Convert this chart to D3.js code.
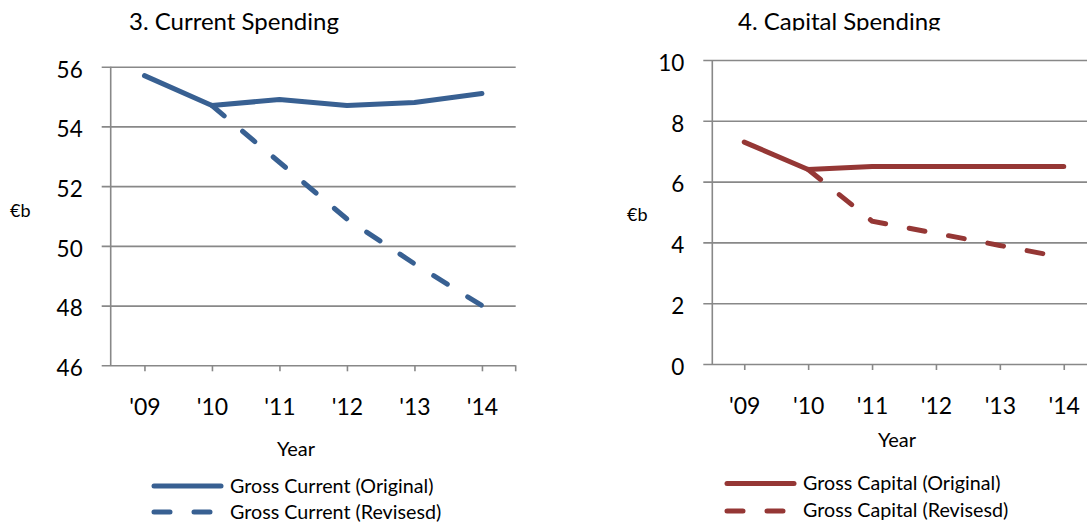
<!DOCTYPE html>
<html>
<head>
<meta charset="utf-8">
<script src="https://cdn.jsdelivr.net/npm/d3@7"></script>
<style>
  html, body { margin: 0; padding: 0; background: #fff; }
  svg { display: block; font-family: Lato, "Open Sans", sans-serif; }
</style>
</head>
<body>
<svg id="chart" width="1087" height="524"></svg>
<script>
// Budget projections, € billion
const years = ["'09", "'10", "'11", "'12", "'13", "'14"];
const currentOriginal = [55.7, 54.7, 54.9, 54.7, 54.8, 55.1];
const currentRevised = [null, 54.7, 52.8, 50.9, 49.4, 48.0];
const capitalOriginal = [7.3, 6.4, 6.5, 6.5, 6.5, 6.5];
const capitalRevised = [null, 6.4, 4.7, 4.3, 3.9, 3.5];
const currentTicks = [46, 48, 50, 52, 54, 56];
const capitalTicks = [0, 2, 4, 6, 8, 10];

const svg = d3.select("#chart");
const GRID = "#888888";

function panel(cfg) {
  const g = svg.append("g");
  const x = d3.scalePoint().domain(years).range([cfg.x0, cfg.x0 + cfg.step * years.length]).padding(0.5);
  const y = d3.scaleLinear().domain(cfg.domain).range([cfg.yBottom, cfg.yTop]);
  const xEnd = cfg.x0 + cfg.step * years.length;

  // title
  const title = g.append("text")
    .attr("x", cfg.titleX).attr("y", cfg.titleY)
    .attr("font-size", 24).attr("fill", "#000")
    .text(cfg.title);
  if (cfg.clipTitle) {
    const id = "clip-" + cfg.key;
    svg.append("clipPath").attr("id", id)
      .append("rect").attr("x", 0).attr("y", 0).attr("width", 1087).attr("height", cfg.clipTitle);
    title.attr("clip-path", `url(#${id})`);
  }

  // y axis with gridlines
  const yAxis = g.append("g").attr("transform", `translate(${cfg.x0},0)`)
    .call(d3.axisLeft(y).tickValues(cfg.ticks).tickSizeInner(-(xEnd - cfg.x0)).tickSizeOuter(0).tickPadding(28));
  yAxis.select(".domain").remove();
  yAxis.selectAll(".tick line").attr("x1", -9).attr("stroke", GRID).attr("stroke-width", 1.6);
  yAxis.selectAll(".tick text").attr("font-size", 22.5).attr("font-family", "Lato, sans-serif")
    .attr("fill", "#000").attr("dy", "0.46em");

  // vertical axis line
  g.append("line")
    .attr("x1", cfg.x0).attr("x2", cfg.x0)
    .attr("y1", y(cfg.domain[1])).attr("y2", y(cfg.domain[0]))
    .attr("stroke", GRID).attr("stroke-width", 1.6);

  // x axis ticks + labels
  const xAxis = g.append("g").attr("transform", `translate(0,${y(cfg.domain[0])})`)
    .call(d3.axisBottom(x).tickSizeInner(6).tickSizeOuter(0).tickPadding(0));
  xAxis.select(".domain").remove();
  xAxis.selectAll(".tick line").attr("stroke", GRID).attr("stroke-width", 1.6);
  xAxis.selectAll(".tick text").attr("font-size", 23).attr("font-family", "Lato, sans-serif")
    .attr("fill", "#000").attr("dy", null).attr("y", 50.2);
  xAxis.append("line")
    .attr("x1", xEnd).attr("x2", xEnd).attr("y1", 0).attr("y2", 6)
    .attr("stroke", GRID).attr("stroke-width", 1.6);

  // axis titles
  g.append("text").attr("x", cfg.unitX).attr("y", cfg.unitY)
    .attr("font-size", 18).text("€b");
  g.append("text").attr("x", cfg.yearX).attr("y", cfg.yearY)
    .attr("font-size", 20).attr("text-anchor", "middle").text("Year");

  // series
  const line = d3.line()
    .defined(d => d.v != null)
    .x(d => x(d.k)).y(d => y(d.v));
  const toPts = arr => arr.map((v, i) => ({ k: years[i], v }));
  const revised = toPts(cfg.revised).filter(d => d.v != null);

  g.append("path").datum(revised).attr("d", line)
    .attr("fill", "none").attr("stroke", cfg.color).attr("stroke-width", 5)
    .attr("stroke-linecap", "round").attr("stroke-dasharray", "16,24");
  g.append("path").datum(toPts(cfg.original)).attr("d", line)
    .attr("fill", "none").attr("stroke", cfg.color).attr("stroke-width", 5)
    .attr("stroke-linecap", "round").attr("stroke-linejoin", "round");

  // legend
  const L = cfg.legend;
  g.append("line").attr("x1", L.x1).attr("x2", L.x2).attr("y1", L.y1).attr("y2", L.y1)
    .attr("stroke", cfg.color).attr("stroke-width", 5).attr("stroke-linecap", "round");
  g.append("line").attr("x1", L.x1).attr("x2", L.x2).attr("y1", L.y2).attr("y2", L.y2)
    .attr("stroke", cfg.color).attr("stroke-width", 5).attr("stroke-linecap", "round")
    .attr("stroke-dasharray", "16,24");
  g.append("text").attr("x", L.tx).attr("y", L.t1).attr("font-size", 19.7).text(cfg.names[0]);
  g.append("text").attr("x", L.tx).attr("y", L.t2).attr("font-size", 19.7).text(cfg.names[1]);
}

panel({
  key: "current",
  title: "3. Current Spending", titleX: 129, titleY: 30,
  x0: 110.7, step: 67.5, yTop: 66.7, yBottom: 365.3,
  domain: [46, 56], ticks: currentTicks,
  original: currentOriginal, revised: currentRevised,
  color: "#386092",
  unitX: 10, unitY: 217, yearX: 296, yearY: 456,
  names: ["Gross Current (Original)", "Gross Current (Revisesd)"],
  legend: { x1: 154, x2: 221, y1: 486, y2: 512, tx: 230, t1: 493, t2: 518.5 }
});

panel({
  key: "capital",
  title: "4. Capital Spending", titleX: 738, titleY: 29.5, clipTitle: 30.5,
  x0: 712.3, step: 63.9, yTop: 60, yBottom: 364,
  domain: [0, 10], ticks: capitalTicks,
  original: capitalOriginal, revised: capitalRevised,
  color: "#953735",
  unitX: 627, unitY: 221, yearX: 897, yearY: 447,
  names: ["Gross Capital (Original)", "Gross Capital (Revisesd)"],
  legend: { x1: 727, x2: 794, y1: 483.5, y2: 511, tx: 803, t1: 490, t2: 516.5 }
});
</script>
</body>
</html>
